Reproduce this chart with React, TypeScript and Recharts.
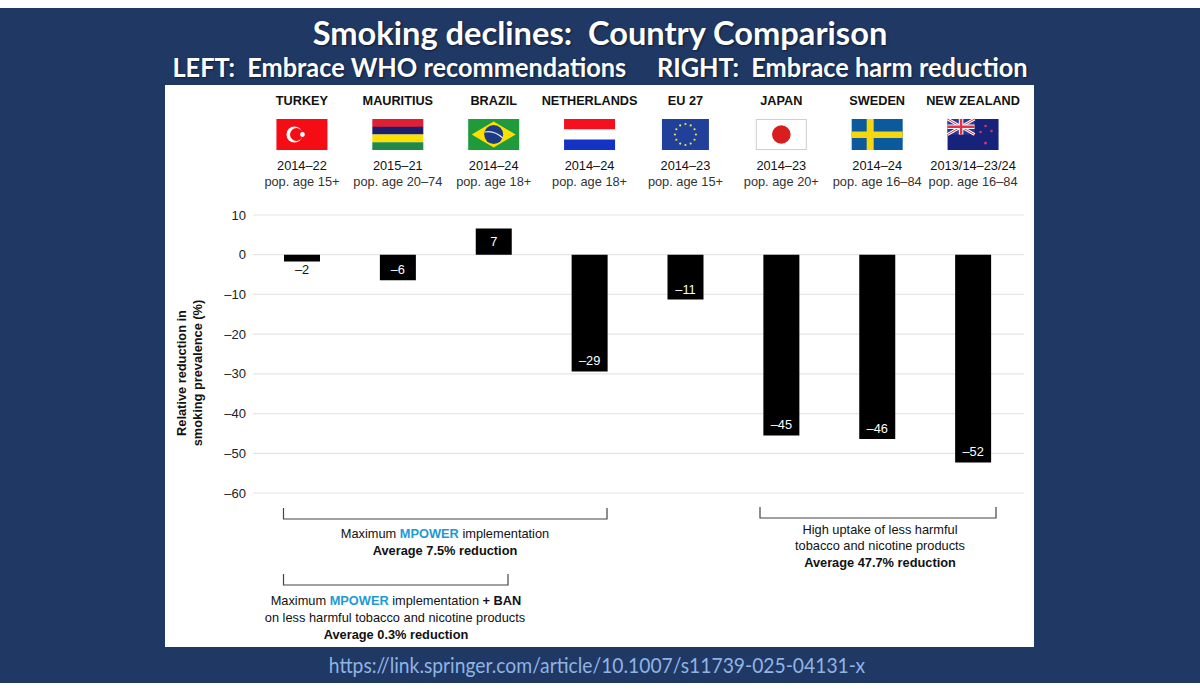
import { Bar, BarChart, CartesianGrid, LabelList, XAxis, YAxis } from "recharts";

const countries = ["TURKEY", "MAURITIUS", "BRAZIL", "NETHERLANDS", "EU 27", "JAPAN", "SWEDEN", "NEW ZEALAND"];
const periods = ["2014–22", "2015–21", "2014–24", "2014–24", "2014–23", "2014–23", "2014–24", "2013/14–23/24"];
const populations = [
	"pop. age 15+",
	"pop. age 20–74",
	"pop. age 18+",
	"pop. age 18+",
	"pop. age 15+",
	"pop. age 20+",
	"pop. age 16–84",
	"pop. age 16–84",
];
const reductions = [-1.7, -6.4, 6.6, -29.4, -11.3, -45.5, -46.4, -52.3];
const barLabels = ["–2", "–6", "7", "–29", "–11", "–45", "–46", "–52"];
const yTicks = [10, 0, -10, -20, -30, -40, -50, -60];

const data = countries.map((name, i) => ({ name, value: reductions[i] }));

const FONT = "'Liberation Sans', Arial, sans-serif";
const TEXT_SIZE = 12.8;

function Flag({ name }: { name: string }) {
	const w = 51;
	const h = 31;
	if (name === "TURKEY") {
		return (
			<g>
				<rect width={w} height={h} fill="#f40d15" />
				<circle cx={18} cy={15.5} r={8} fill="#fff" />
				<circle cx={20} cy={15.5} r={6.4} fill="#f40d15" />
				<circle cx={26} cy={15.5} r={2.4} fill="#fff" />
			</g>
		);
	}
	if (name === "MAURITIUS") {
		return (
			<g>
				<rect width={w} height={8} fill="#e01f35" />
				<rect y={7.75} width={w} height={7.75} fill="#1a206d" />
				<rect y={15.5} width={w} height={7.75} fill="#ffdf00" />
				<rect y={23.25} width={w} height={7.75} fill="#1f8a47" />
			</g>
		);
	}
	if (name === "BRAZIL") {
		return (
			<g>
				<rect width={w} height={h} fill="#1f9a3c" />
				<polygon points="3.5,15.5 25.5,2.5 47.5,15.5 25.5,28.5" fill="#fedf00" />
				<circle cx={25.5} cy={15.5} r={9.5} fill="#1d3b83" />
				<path d="M16.5 13 Q 26 11 34.5 19" stroke="#dfe8f2" strokeWidth={1.1} fill="none" />
			</g>
		);
	}
	if (name === "NETHERLANDS") {
		return (
			<g>
				<rect width={w} height={10.5} fill="#f5101f" />
				<rect y={10.5} width={w} height={10} fill="#fff" />
				<rect y={20.5} width={w} height={10.5} fill="#1433c4" />
			</g>
		);
	}
	if (name === "EU 27") {
		const stars = Array.from({ length: 12 }, (_, i) => i * 30);
		return (
			<g>
				<rect x={2} width={47} height={h} fill="#21409a" />
				{stars.map((a) => (
					<circle
						key={a}
						cx={25.5 + 10.5 * Math.cos((a * Math.PI) / 180)}
						cy={15.5 + 10.5 * Math.sin((a * Math.PI) / 180)}
						r={1.1}
						fill="#e7e35a"
					/>
				))}
			</g>
		);
	}
	if (name === "JAPAN") {
		return (
			<g>
				<rect x={0.5} y={0.5} width={w - 1} height={h - 1} fill="#fff" stroke="#cfcfcf" />
				<circle cx={25.5} cy={15.5} r={9.3} fill="#d81e1e" />
			</g>
		);
	}
	if (name === "SWEDEN") {
		return (
			<g>
				<rect width={w} height={h} fill="#0b5a9c" />
				<rect x={15} width={7} height={h} fill="#f6d70f" />
				<rect y={12.5} width={w} height={6.5} fill="#f6d70f" />
			</g>
		);
	}
	return (
		<g>
			<rect width={w} height={h} fill="#17237a" />
			<rect width={27} height={15.5} fill="#2b3a8f" />
			<path d="M0 0L27 15.5M27 0L0 15.5" stroke="#fff" strokeWidth={3} />
			<path d="M0 0L27 15.5M27 0L0 15.5" stroke="#e2324a" strokeWidth={1} />
			<path d="M13.5 0V15.5M0 7.75H27" stroke="#fff" strokeWidth={4.5} />
			<path d="M13.5 0V15.5M0 7.75H27" stroke="#e2324a" strokeWidth={2.5} />
			<circle cx={38} cy={7} r={1.3} fill="#d6365c" />
			<circle cx={33} cy={13} r={1.3} fill="#d6365c" />
			<circle cx={44} cy={12} r={1.3} fill="#d6365c" />
			<circle cx={38} cy={24} r={1.5} fill="#d6365c" />
		</g>
	);
}

function HeaderTick({ x, index, payload }: any) {
	const i = index ?? countries.indexOf(payload.value);
	return (
		<g fontFamily={FONT} textAnchor="middle" fill="#111">
			<text x={x} y={105} fontSize={12.7} fontWeight={700}>
				{countries[i]}
			</text>
			<g transform={`translate(${x - 25.5},119)`}>
				<Flag name={countries[i]} />
			</g>
			<text x={x} y={170} fontSize={TEXT_SIZE}>
				{periods[i]}
			</text>
			<text x={x} y={186} fontSize={TEXT_SIZE} fill="#333">
				{populations[i]}
			</text>
		</g>
	);
}

function BarValue({ x, y, width, height, index }: any) {
	const value = reductions[index];
	const cx = x + width / 2;
	const top = Math.min(y, y + height);
	const bottom = Math.max(y, y + height);
	let ty = bottom - 6;
	let fill = "#fff";
	if (value > 0) ty = (top + bottom) / 2 + 4;
	if (value > -3 && value < 0) {
		ty = bottom + 13;
		fill = "#111";
	}
	return (
		<text x={cx} y={ty} textAnchor="middle" fontFamily={FONT} fontSize={TEXT_SIZE} fill={fill}>
			{barLabels[index]}
		</text>
	);
}

function Bracket({ x1, x2, top }: { x1: number; x2: number; top: number }) {
	return <path d={`M${x1} ${top}V${top + 11}H${x2}V${top}`} fill="none" stroke="#444" strokeWidth={1.2} />;
}

function Notes() {
	const blue = "#1d9ad6";
	return (
		<svg width={1200} height={690} style={{ position: "absolute", left: 0, top: 0 }}>
			<g fontFamily={FONT} textAnchor="middle" fill="#111" fontSize={TEXT_SIZE}>
				<g fontWeight={700} transform="translate(182,373) rotate(-90)">
					<text x={0} y={4}>
						Relative reduction in
					</text>
					<text x={0} y={20}>
						smoking prevalence (%)
					</text>
				</g>
				<Bracket x1={283.5} x2={607} top={508} />
				<text x={445} y={538}>
					Maximum{" "}
					<tspan fill={blue} fontWeight={700}>
						MPOWER
					</tspan>{" "}
					implementation
				</text>
				<text x={445} y={555} fontWeight={700}>
					Average 7.5% reduction
				</text>
				<Bracket x1={283.5} x2={508} top={574} />
				<text x={396} y={605}>
					Maximum{" "}
					<tspan fill={blue} fontWeight={700}>
						MPOWER
					</tspan>{" "}
					implementation <tspan fontWeight={700}>+ BAN</tspan>
				</text>
				<text x={395} y={622}>
					on less harmful tobacco and nicotine products
				</text>
				<text x={396} y={639} fontWeight={700}>
					Average 0.3% reduction
				</text>
				<Bracket x1={760} x2={996} top={507} />
				<text x={880} y={534}>
					High uptake of less harmful
				</text>
				<text x={880} y={550}>
					tobacco and nicotine products
				</text>
				<text x={880} y={567} fontWeight={700}>
					Average 47.7% reduction
				</text>
			</g>
		</svg>
	);
}

function SlideLine({ text, top, size, squeeze, color, bold, centre }: any) {
	return (
		<div
			style={{
				position: "absolute",
				left: centre - 600,
				width: 1200,
				top,
				textAlign: "center",
				color,
				fontFamily: "Lato, sans-serif",
				fontWeight: bold ? 700 : 400,
				fontSize: size,
				lineHeight: `${size + 6}px`,
				whiteSpace: "pre",
				transform: `scaleX(${squeeze})`,
				textShadow: bold ? "1px 1px 2px rgba(0,0,0,0.5)" : undefined,
			}}
		>
			{text}
		</div>
	);
}

export default function App() {
	return (
		<div style={{ position: "absolute", left: 0, top: 0, width: 1200, height: 690, background: "#fff", overflow: "hidden" }}>
			<div style={{ position: "absolute", left: 0, top: 8, width: 1200, height: 675, background: "#1f3864" }} />
			<div style={{ position: "absolute", left: 165, top: 85, width: 869, height: 562, background: "#fff" }} />
			<SlideLine text="Smoking declines:  Country Comparison" top={13} size={33} squeeze={0.988} color="#fff" bold centre={600} />
			<SlideLine
				text="LEFT:  Embrace WHO recommendations     RIGHT:  Embrace harm reduction"
				top={50}
				size={27}
				squeeze={0.938}
				color="#fff"
				bold
				centre={600}
			/>
			<SlideLine
				text="https://link.springer.com/article/10.1007/s11739-025-04131-x"
				top={651}
				size={22}
				squeeze={0.876}
				color="#8fb4e3"
				centre={597}
			/>
			<div style={{ position: "absolute", left: 0, top: 0 }}>
				<BarChart
					width={1200}
					height={690}
					data={data}
					barCategoryGap={0}
					margin={{ top: 85, right: 176, bottom: 197, left: 213 }}
				>
					<CartesianGrid horizontal vertical={false} stroke="#e6e6e6" strokeWidth={1.2} />
					<XAxis
						dataKey="name"
						orientation="top"
						height={130}
						axisLine={false}
						tickLine={false}
						interval={0}
						padding={{ left: 1, right: 3 }}
						tick={<HeaderTick />}
					/>
					<YAxis
						width={40}
						domain={[-60, 10]}
						ticks={yTicks}
						interval={0}
						axisLine={false}
						tickLine={false}
						tickSize={0}
						tickMargin={7}
						tick={{ fontFamily: FONT, fontSize: 13, fill: "#222" }}
						tickFormatter={(v: number) => String(v).replace("-", "–")}
					/>
					<Bar dataKey="value" fill="#000" barSize={36} isAnimationActive={false}>
						<LabelList dataKey="value" content={<BarValue />} />
					</Bar>
				</BarChart>
			</div>
			<Notes />
		</div>
	);
}
